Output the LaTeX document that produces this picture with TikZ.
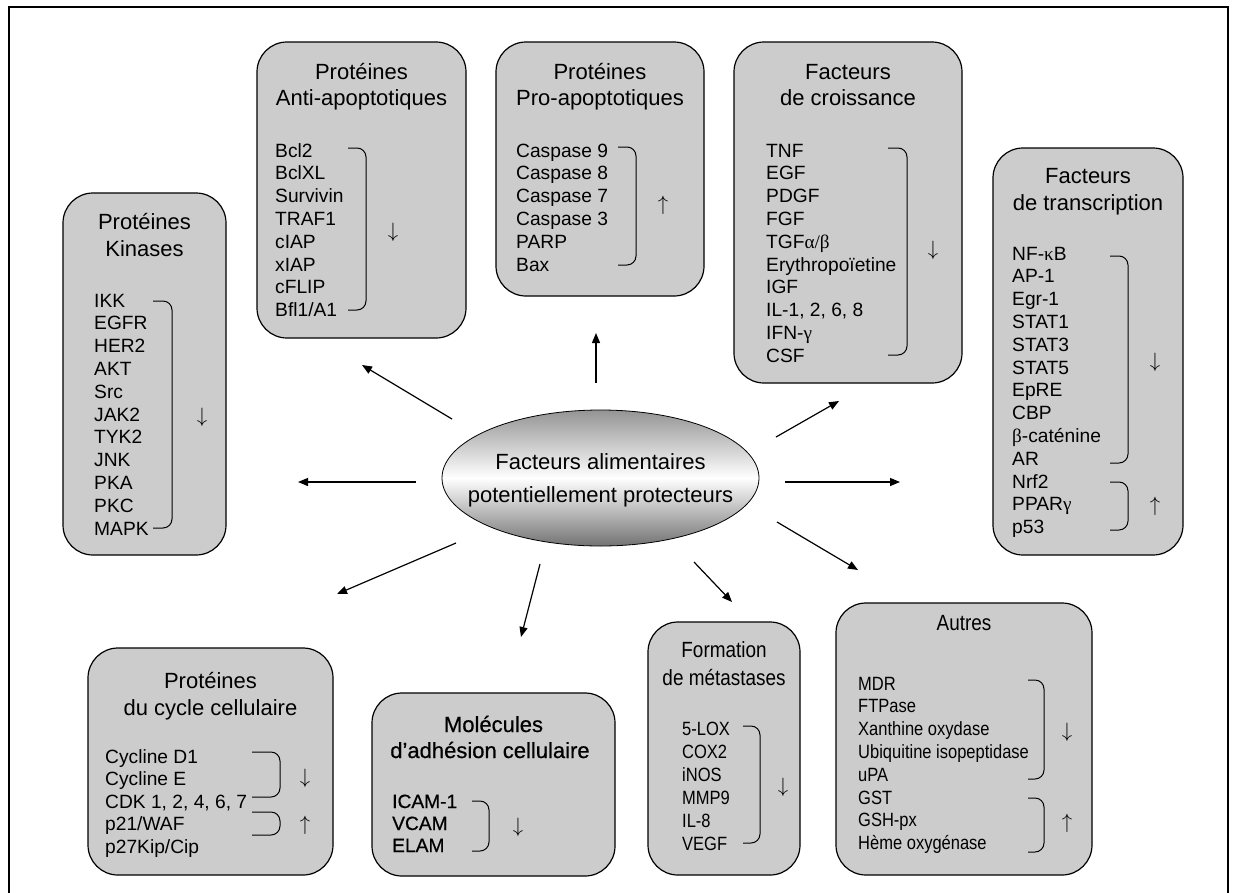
\documentclass[tikz,border=0pt]{standalone}
\usepackage{fontspec}
\setmainfont{Liberation Sans}
\newfontfamily\grkfont{Liberation Serif}
\newfontfamily\cndfont{Liberation Sans}[FakeStretch=0.86]
\newfontfamily\hvyfont{Liberation Sans}[FakeBold=0.6]
\usetikzlibrary{arrows.meta,shapes.geometric}
\definecolor{boxgray}{HTML}{CCCCCC}
\newcommand\gk[1]{{\grkfont #1}}
\newcommand\itemcol[6][itm]{%
  \foreach \t [count=\i from 0] in {#6}{\node[#1] (#2\i) at ({#3},{#4+\i*#5}) {\t};}}
\begin{document}
\begin{tikzpicture}[x=1pt,y=-1pt,
  box/.style={draw=black, line width=1.2pt, fill=boxgray, rounded corners=30pt, inner sep=0pt},
  ttl/.style={anchor=base, inner sep=0pt, font=\fontsize{22}{26}\selectfont},
  ttlc/.style={ttl, font=\fontsize{22}{26}\selectfont\cndfont},
  ttlh/.style={ttl, font=\fontsize{22}{26}\selectfont\hvyfont},
  itm/.style={anchor=base west, inner sep=0pt, font=\fontsize{19.2}{22.8}\selectfont},
  itmc/.style={itm, font=\fontsize{19.2}{22.8}\selectfont\cndfont},
  itmh/.style={itm, font=\fontsize{19.2}{22.8}\selectfont\hvyfont},
  brk/.style={line width=1pt, rounded corners=9pt},
  sym/.style={anchor=center, inner sep=0pt, font=\fontsize{20}{22.8}\selectfont},
  arr/.style={line width=1.2pt, -{Triangle[length=10pt,width=8pt]}}
]
\useasboundingbox (0,0) rectangle (1237,892);
% outer frame
\draw[line width=2pt] (9,900) -- (9,7) -- (1228,7) -- (1228,900);

% boxes
\node[box, minimum width=163pt, minimum height=362pt] (kin) at (144.5,374) {};
\node[box, minimum width=209pt, minimum height=296pt] (anti) at (361.5,190) {};
\node[box, minimum width=208pt, minimum height=254pt] (pro) at (600,169) {};
\node[box, minimum width=228pt, minimum height=341pt] (cro) at (848,212.5) {};
\node[box, minimum width=190pt, minimum height=407pt] (tra) at (1088,351.5) {};
\node[box, minimum width=245pt, minimum height=227pt] (cyc) at (210.5,761.5) {};
\node[box, minimum width=243pt, minimum height=183pt] (mol) at (493.5,784.5) {};
\node[box, minimum width=152pt, minimum height=253pt] (frm) at (724,748.5) {};
\node[box, minimum width=256pt, minimum height=272pt] (aut) at (964,739) {};

% central ellipse
\node[ellipse, draw=black, line width=0.8pt, minimum width=317pt, minimum height=136pt, inner sep=0pt,
  top color=black!42, bottom color=black!55, middle color=white] (ell) at (600.5,478) {};
\node[ttl] (ellA) at (600.5,469) {Facteurs alimentaires};
\node[ttl] (ellB) at (600.5,502) {potentiellement protecteurs};

% titles
\node[ttl] (kinT1) at (144.5,229) {Protéines};
\node[ttl] (kinT2) at (144.5,256) {Kinases};
\node[ttl] (antiT1) at (361.5,79) {Protéines};
\node[ttl] (antiT2) at (361.5,105) {Anti-apoptotiques};
\node[ttl] (proT1) at (600,79) {Protéines};
\node[ttl] (proT2) at (600,105) {Pro-apoptotiques};
\node[ttl] (croT1) at (848,79) {Facteurs};
\node[ttl] (croT2) at (848,105) {de croissance};
\node[ttl] (traT1) at (1088,183) {Facteurs};
\node[ttl] (traT2) at (1088,210) {de transcription};
\node[ttl] (cycT1) at (210.5,688) {Protéines};
\node[ttl] (cycT2) at (210.5,715) {du cycle cellulaire};
\node[ttlh] (molT1) at (493.5,732) {Molécules};
\node[ttlh] (molT2) at (490,758) {d’adhésion cellulaire};
\node[ttlc] (frmT1) at (724,657) {Formation};
\node[ttlc] (frmT2) at (724,685) {de métastases};
\node[ttlc] (autT1) at (964,630) {Autres};

% lists
\itemcol{kinL}{94}{307}{22.8}{IKK,EGFR,HER2,AKT,Src,JAK2,TYK2,JNK,PKA,PKC,MAPK}
\itemcol{antiL}{275}{157}{22.8}{Bcl2,BclXL,Survivin,TRAF1,cIAP,xIAP,cFLIP,Bfl1/A1}
\itemcol{proL}{516}{157}{22.8}{Caspase 9,Caspase 8,Caspase 7,Caspase 3,PARP,Bax}
\itemcol{croL}{766}{157}{22.8}{TNF,EGF,PDGF,FGF,TGF\gk{α/β},Erythropoïetine,IGF,{IL-1, 2, 6, 8},IFN-\gk{γ},CSF}
\itemcol{traL}{1012}{260}{22.8}{NF-\gk{κ}B,AP-1,Egr-1,STAT1,STAT3,STAT5,EpRE,CBP,\gk{β}-caténine,AR,Nrf2,PPAR\gk{γ},p53}
\itemcol{cycL}{105}{763}{22.5}{Cycline D1,Cycline E,{CDK 1, 2, 4, 6, 7},p21/WAF,p27Kip/Cip}
\itemcol[itmh]{molL}{392}{808}{22}{ICAM-1,VCAM,ELAM}
\itemcol[itmc]{frmL}{682}{735}{23}{5-LOX,COX2,iNOS,MMP9,IL-8,VEGF}
\itemcol[itmc]{autL}{858}{690}{22.8}{MDR,FTPase,Xanthine oxydase,Ubiquitine isopeptidase,uPA,GST,GSH-px,Hème oxygénase}

% brackets
\draw[brk] (153,301) -- (172,301) -- (172,528) -- (153,528);
\draw[brk] (348,148) -- (366,148) -- (366,310) -- (348,310);
\draw[brk] (618,147) -- (636,147) -- (636,265) -- (618,265);
\draw[brk] (888,148) -- (907,148) -- (907,355) -- (888,355);
\draw[brk] (1110,256) -- (1128,256) -- (1128,463) -- (1110,463);
\draw[brk] (1110,482) -- (1128,482) -- (1128,530) -- (1110,530);
\draw[brk] (252,752) -- (280,752) -- (280,797) -- (252,797);
\draw[brk] (252,812) -- (280,812) -- (280,835) -- (252,835);
\draw[brk] (472,801) -- (489,801) -- (489,851) -- (472,851);
\draw[brk] (743,726) -- (760,726) -- (760,843) -- (743,843);
\draw[brk] (1028,680) -- (1044,680) -- (1044,779) -- (1028,779);
\draw[brk] (1028,798) -- (1044,798) -- (1044,852) -- (1028,852);

% up / down symbols
\node[sym] (kinD) at (202,417) {$\downarrow$};
\node[sym] (antiD) at (393,232) {$\downarrow$};
\node[sym] (proU) at (663,205) {$\uparrow$};
\node[sym] (croD) at (933,250) {$\downarrow$};
\node[sym] (traD) at (1155,362) {$\downarrow$};
\node[sym] (traU) at (1155,506) {$\uparrow$};
\node[sym] (cycD) at (305,778) {$\downarrow$};
\node[sym] (cycU) at (305,825) {$\uparrow$};
\node[sym] (molD) at (518,827) {$\downarrow$};
\node[sym] (frmD) at (783,787) {$\downarrow$};
\node[sym] (autD) at (1067,732) {$\downarrow$};
\node[sym] (autU) at (1067,823) {$\uparrow$};

% connector end points
\coordinate (k0) at (416,482); \coordinate (k1) at (298,482);
\coordinate (a0) at (452,419); \coordinate (a1) at (362,365);
\coordinate (p0) at (596,383); \coordinate (p1) at (596,333);
\coordinate (c0) at (776,437); \coordinate (c1) at (839,401);
\coordinate (t0) at (785,482); \coordinate (t1) at (900,482);
\coordinate (o0) at (777,522); \coordinate (o1) at (858,570);
\coordinate (f0) at (694,562); \coordinate (f1) at (732,602);
\coordinate (m0) at (540,564); \coordinate (m1) at (521,637);
\coordinate (y0) at (456,543); \coordinate (y1) at (337,594);
\draw[arr] (k0) -- (k1);
\draw[arr] (a0) -- (a1);
\draw[arr] (p0) -- (p1);
\draw[arr] (c0) -- (c1);
\draw[arr] (t0) -- (t1);
\draw[arr] (o0) -- (o1);
\draw[arr] (f0) -- (f1);
\draw[arr] (m0) -- (m1);
\draw[arr] (y0) -- (y1);
\end{tikzpicture}
\end{document}
